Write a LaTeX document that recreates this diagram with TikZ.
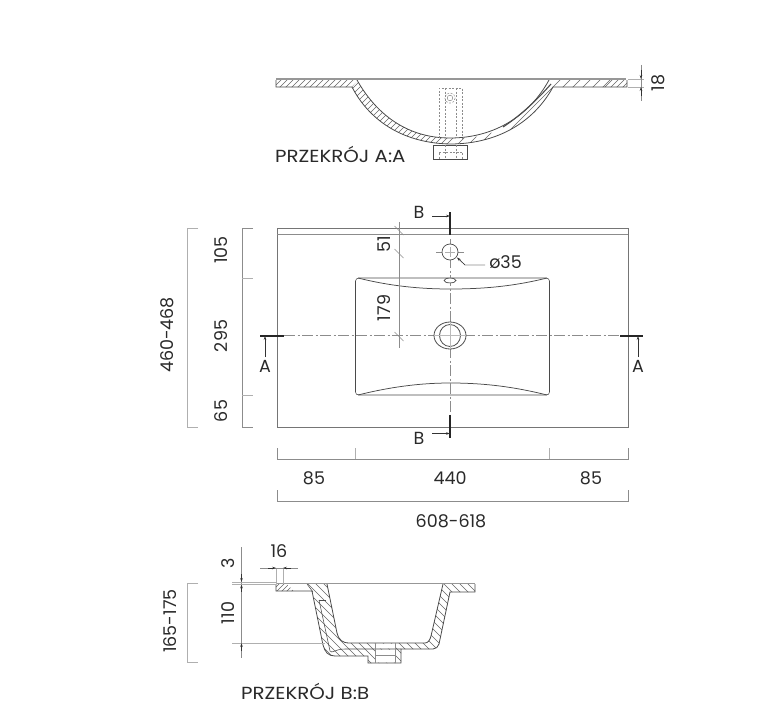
\documentclass[tikz,border=0pt]{standalone}
\usepackage{fontspec}
\setmainfont{Poppins}
\usetikzlibrary{arrows.meta}
\definecolor{txt}{HTML}{2A2A2A}
\definecolor{dimc}{HTML}{8C8C8C}
\definecolor{edge}{HTML}{4A4A4A}
\tikzset{
  lbl/.style={font=\fontsize{17.5}{19}\selectfont,text=txt,inner sep=0pt},
  vlbl/.style={lbl,rotate=90},
  dimline/.style={draw=dimc,line width=0.6pt},
  extline/.style={draw=dimc!70,line width=0.9pt},
  outline/.style={draw=edge,line width=0.8pt},
  thinout/.style={draw=edge,line width=0.55pt},
  heavy/.style={draw=black!85,line width=1.1pt},
  center/.style={draw=dimc,line width=0.5pt,dash pattern=on 11pt off 2.5pt on 2pt off 2.5pt},
  hatch/.style={draw=black!60,line width=0.42pt},
  dashy/.style={draw=dimc,line width=0.5pt,dash pattern=on 2pt off 1.5pt},
  arr/.style={-{Stealth[length=4pt,width=2.6pt]},draw=black!80,line width=0.5pt},
}
\newcommand{\hatchback}[3]{\foreach \q in {#1,#2,...,#3}{\draw[hatch] (\q,50) -- ++(700,700);}}
\newcommand{\hatchfwd}[3]{\foreach \q in {#1,#2,...,#3}{\draw[hatch] (\q,50) -- ++(-700,700);}}
\begin{document}
\begin{tikzpicture}[x=1pt,y=-1pt]
\useasboundingbox (0,0) rectangle (784,709);
\fill[white] (0,0) rectangle (784,709);

% ===== section A:A =====
\begin{scope}
\clip (276,80) -- (276,87) -- (352,87) -- (358,80) -- cycle;
\hatchfwd{305}{311}{400}
\end{scope}
\begin{scope}
\clip (357,80) .. controls (375,112) and (405,138) .. (450,138) -- (450,144) .. controls (400,143) and (368,118) .. (352,87) -- cycle;
\hatchfwd{385}{391}{560}
\end{scope}
\begin{scope}
\clip (450,138) -- (450,144) .. controls (500,144) and (535,120) .. (553,87) -- (627,87) -- (627,80) -- (549,80) .. controls (530,115) and (500,138) .. (460,138) -- cycle;
\hatchfwd{530}{541}{580}
\hatchfwd{590}{600}{640}
\hatchfwd{642}{648}{670}
\end{scope}
\draw[outline] (276,80) -- (276,87) -- (352,87) .. controls (368,118) and (400,143) .. (450,144) .. controls (500,144) and (535,120) .. (553,87) -- (627,87) -- (627,80);
\draw[outline] (357,80) .. controls (375,112) and (405,138) .. (450,138) .. controls (495,138) and (530,115) .. (549,80);
\draw[heavy,black!70] (503,127) .. controls (520,116) and (537,100) .. (551,84);
\draw[draw=dimc!90,line width=1.7pt] (276,79) -- (626,79);
\draw[outline,fill=white] (433,145) rectangle (467,159);
\draw[dashy] (439,138) -- (439,88) -- (462,88) -- (462,138);
\draw[dashy] (445,88) -- (445,138) (456,88) -- (456,138);
\draw[dashy] (439,153) -- (439,159) (445,145) -- (445,159) (456,145) -- (456,159) (462,153) -- (462,159) (439,152) -- (462,152);
\draw[dimc,line width=0.5pt] (450,98) circle (2.8);
\draw[dashy] (450,98) circle (5.2);
% dim 18
\draw[extline] (628,79) -- (644,79) (628,87) -- (644,87);
\draw[dimline] (641,65) -- (641,101);
\draw[arr] (641,70) -- (641,79);
\draw[arr] (641,96) -- (641,87);
\node[vlbl] (d18) at (658,83) {18};
\node[lbl,anchor=west] (titleA) at (275,154) {\scalebox{1.13}[1]{PRZEKRÓJ A:A}};

% ===== plan view =====
\draw[outline,draw=dimc!120] (277,228) rectangle (628,427);
\draw[draw=dimc,line width=0.7pt] (277,234.5) -- (628,234.5);
% basin
\draw[thinout] (359,278) -- (546,278) .. controls (548,278) and (549.5,279.5) .. (549.5,281) -- (549.5,392) .. controls (549.5,394) and (548,395) .. (546,395) -- (359,395) .. controls (357,395) and (355.5,394) .. (355.5,392) -- (355.5,281) .. controls (355.5,279.5) and (357,278) .. (359,278);
\draw[thinout,line width=0.75pt] (358,278) .. controls (390,286) and (420,289) .. (450,289) .. controls (485,289) and (515,286) .. (547,278);
\draw[thinout,line width=0.75pt] (358,395) .. controls (390,387) and (420,383) .. (450,383) .. controls (485,383) and (515,387) .. (547,395);
% centre lines
\draw[center] (284,335.5) -- (620,335.5);
\draw[center] (450,239) -- (450,415);
% tap hole
\draw[draw=dimc,line width=0.5pt] (436,252) -- (464,252);
\draw[thinout,line width=0.7pt,fill=white] (450,252) circle (8);
\draw[dimc!70,line width=0.5pt] (445,252) -- (455,252) (450,247) -- (450,257);
% overflow
\draw[thinout,line width=0.7pt,fill=white] (450,280.5) ellipse (6 and 2.4);
% drain
\draw[thinout,line width=0.8pt,fill=white] (450,335.5) ellipse (16 and 13.5);
\draw[thinout,line width=0.8pt] (450,335.5) ellipse (10.5 and 11);
\draw[dimc!60,line width=0.45pt] (434,335.5) -- (466,335.5) (450,322) -- (450,349);
% cut marks
\draw[heavy] (450,212) -- (450,235);
\draw[arr] (432,216) -- (450,216);
\node[lbl] (bt) at (419,212.5) {B};
\draw[heavy] (450,415) -- (450,438);
\draw[arr] (432,433.5) -- (450,433.5);
\node[lbl] (bb) at (419,438.5) {B};
\draw[heavy] (260,336) -- (284,336);
\draw[arr] (265,357) -- (265,336);
\node[lbl] (al) at (265,366) {A};
\draw[heavy] (620,336) -- (643,336);
\draw[arr] (638,357) -- (638,336);
\node[lbl] (ar) at (638,366) {A};
% dim 51 / 179
\draw[dimline] (399,222) -- (399,348);
\draw[dimline] (394.5,226) -- (403.5,235) (394.5,249) -- (403.5,258) (394.5,332) -- (403.5,341);
\node[vlbl] (d51) at (384,244) {51};
\node[vlbl] (d179) at (384,308) {179};
% dia 35
\draw[dimline] (485,265) -- (465,265) -- (458,258);
\draw[arr] (465,265) -- (457,257.5);
\node[lbl] (d35) at (505.5,262) {ø35};
% left dims
\draw[extline] (198,228) -- (187,228) -- (187,427) -- (198,427);
\node[vlbl] (dh) at (167,335) {460-468};
\draw[extline,draw=dimc] (253,228) -- (242,228) -- (242,427) -- (253,427);
\draw[extline] (242,278) -- (253,278) (242,395) -- (253,395);
\node[vlbl] (d105) at (221,250) {105};
\node[vlbl] (d295) at (221,336) {295};
\node[vlbl] (d65) at (221,411) {65};
% bottom dims
\draw[extline,draw=dimc] (277,448) -- (277,459) -- (628,459) -- (628,448);
\draw[extline] (355.5,448) -- (355.5,459) (549.5,448) -- (549.5,459);
\node[lbl] (d85a) at (314,478) {85};
\node[lbl] (d440) at (450,478) {440};
\node[lbl] (d85b) at (591,478) {85};
\draw[extline,draw=dimc] (277,490) -- (277,501.5) -- (628,501.5) -- (628,490);
\node[lbl] (dw) at (451,521) {608-618};

% ===== section B:B =====
\begin{scope}
\clip (276,584) -- (276,591) -- (294,591) -- (287,584) -- cycle;
\hatchfwd{808}{813}{840}
\end{scope}
\begin{scope}
\clip (307,584) -- (313,592) -- (323,645) .. controls (325,652) and (328,656) .. (335,656) -- (368,656) -- (368,663) -- (401,663) -- (401,649) -- (433,649) .. controls (436,649) and (438,647) .. (439,644) -- (450,592) -- (475,592) -- (475,584) -- (443,584) -- (431,636) .. controls (430,640) and (428,643) .. (425,643) -- (350,643) .. controls (342,643) and (339,640) .. (337,633) -- (327,584) -- cycle;
\hatchback{-290}{-282}{-50}
\end{scope}
\fill[white] (375,643.5) rectangle (395,648.5) (375,649.5) rectangle (395,662.5);
\draw[outline] (276,584) -- (276,591) -- (294,591) -- (312,591) -- (323,645) .. controls (325,652) and (328,656) .. (335,656) -- (368,656) -- (368,663) -- (401,663) -- (401,649) -- (433,649) .. controls (436,649) and (438,647) .. (439,644) -- (450,592) -- (475,592) -- (475,584);
\draw[outline] (327,584) -- (337,633) .. controls (339,640) and (342,643) .. (350,643) -- (425,643) .. controls (428,643) and (430,640) .. (431,636) -- (443,584);
\draw[thinout] (307,584) -- (313,592);
\draw[thinout] (319,600) -- (330,651) .. controls (332,654) and (335,649) .. (345,649) -- (401,649);
\draw[thinout] (326,600) -- (319,600);
\draw[dimc,line width=0.5pt] (375,643) -- (375,663) (395,643) -- (395,663) (375,655) -- (395,655);
\draw[draw=dimc!90,line width=1.5pt] (276,583.5) -- (475,583.5);
% dims
\draw[extline,line width=0.7pt] (276,568) -- (276,584) (283,568) -- (283,584);
\draw[dimline] (260,568) -- (298,568);
\draw[arr] (268,568) -- (276,568);
\draw[arr] (291,568) -- (283,568);
\node[lbl] (d16) at (279,551) {16};
\draw[dimline] (241.5,547) -- (241.5,658);
\draw[extline] (232,582) -- (276,582) (232,584.5) -- (276,584.5) (232,643) -- (325,643);
\draw[arr] (241.5,574) -- (241.5,582);
\draw[arr] (241.5,592) -- (241.5,584.5);
\draw[arr] (241.5,651) -- (241.5,643);
\node[vlbl] (d3) at (228,563) {3};
\node[vlbl] (d110) at (228,613) {110};
\draw[extline] (198,583) -- (187,583) -- (187,662) -- (198,662);
\node[vlbl] (dbh) at (170,621) {165-175};
\node[lbl,anchor=west] (titleB) at (241,691) {\scalebox{1.13}[1]{PRZEKRÓJ B:B}};
\end{tikzpicture}
\end{document}
